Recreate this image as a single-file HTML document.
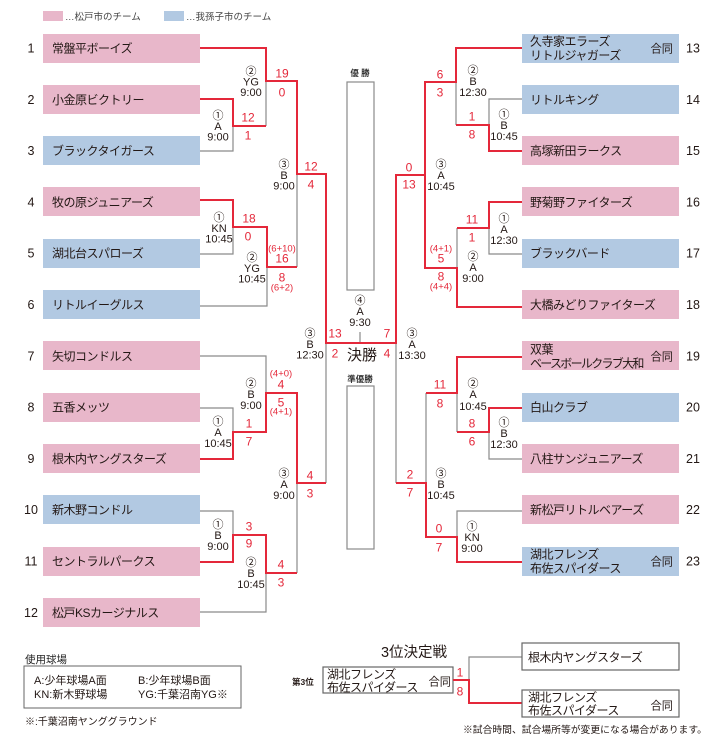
<!DOCTYPE html>
<html><head><meta charset="utf-8">
<style>
html,body{margin:0;padding:0;background:#fff;}
svg{display:block;}
text{font-family:"Liberation Sans","Noto Sans CJK JP",sans-serif;fill:#231815;}
.t{font-size:12px;letter-spacing:-0.5px;}
.gd{font-size:11.2px;text-anchor:end;letter-spacing:0;}
.m{font-size:11px;text-anchor:middle;}
.s{font-size:12px;text-anchor:middle;fill:#e4283a;}
.ss{font-size:9.5px;text-anchor:middle;fill:#e4283a;}
.n{font-size:12.5px;}
.g{stroke:#8a8a8a;stroke-width:1.2;fill:none;}
.r{stroke:#e4283a;stroke-width:2;fill:none;}
.pk{fill:#e8b7ca;}
.bl{fill:#b2c9e2;}
</style></head>
<body>
<svg width="720" height="747" viewBox="0 0 720 747" xmlns="http://www.w3.org/2000/svg">
<!-- legend -->
<rect x="43" y="11" width="20" height="10" class="pk"/>
<text x="65" y="20" style="font-size:9.5px;fill:#444">…松戸市のチーム</text>
<rect x="164" y="11" width="20" height="10" class="bl"/>
<text x="186" y="20" style="font-size:9.5px;fill:#444">…我孫子市のチーム</text>

<!-- left boxes -->
<rect x="43" y="34" width="157" height="29" class="pk"/>
<rect x="43" y="85" width="157" height="29" class="pk"/>
<rect x="43" y="136" width="157" height="29" class="bl"/>
<rect x="43" y="187" width="157" height="29" class="pk"/>
<rect x="43" y="239" width="157" height="29" class="bl"/>
<rect x="43" y="290" width="157" height="29" class="bl"/>
<rect x="43" y="341" width="157" height="29" class="pk"/>
<rect x="43" y="393" width="157" height="29" class="pk"/>
<rect x="43" y="444" width="157" height="29" class="pk"/>
<rect x="43" y="495" width="157" height="29" class="bl"/>
<rect x="43" y="547" width="157" height="29" class="pk"/>
<rect x="43" y="598" width="157" height="29" class="pk"/>

<text class="t" x="52" y="52.5">常盤平ボーイズ</text>
<text class="t" x="52" y="103.8">小金原ビクトリー</text>
<text class="t" x="52" y="155">ブラックタイガース</text>
<text class="t" x="52" y="206.4">牧の原ジュニアーズ</text>
<text class="t" x="52" y="257.7">湖北台スパローズ</text>
<text class="t" x="52" y="309">リトルイーグルス</text>
<text class="t" x="52" y="360.3">矢切コンドルス</text>
<text class="t" x="52" y="411.6">五香メッツ</text>
<text class="t" x="52" y="462.9">根木内ヤングスターズ</text>
<text class="t" x="52" y="514.2">新木野コンドル</text>
<text class="t" x="52" y="565.5">セントラルパークス</text>
<text class="t" x="52" y="616.8">松戸KSカージナルス</text>

<g class="n" style="text-anchor:middle">
<text x="31" y="52.5">1</text>
<text x="31" y="103.8">2</text>
<text x="31" y="155">3</text>
<text x="31" y="206.4">4</text>
<text x="31" y="257.7">5</text>
<text x="31" y="309">6</text>
<text x="31" y="360.3">7</text>
<text x="31" y="411.6">8</text>
<text x="31" y="462.9">9</text>
<text x="31" y="514.2">10</text>
<text x="31" y="565.5">11</text>
<text x="31" y="616.8">12</text>
</g>

<!-- right boxes -->
<rect x="522" y="34" width="157" height="29" class="bl"/>
<rect x="522" y="85" width="157" height="29" class="bl"/>
<rect x="522" y="136" width="157" height="29" class="pk"/>
<rect x="522" y="187" width="157" height="29" class="pk"/>
<rect x="522" y="239" width="157" height="29" class="bl"/>
<rect x="522" y="290" width="157" height="29" class="pk"/>
<rect x="522" y="341" width="157" height="29" class="pk"/>
<rect x="522" y="393" width="157" height="29" class="bl"/>
<rect x="522" y="444" width="157" height="29" class="pk"/>
<rect x="522" y="495" width="157" height="29" class="pk"/>
<rect x="522" y="547" width="157" height="29" class="bl"/>

<text class="t" x="530" y="45.5">久寺家エラーズ</text>
<text class="t" x="530" y="59.5">リトルジャガーズ</text>
<text class="gd" x="673" y="52.5">合同</text>
<text class="t" x="530" y="103.8">リトルキング</text>
<text class="t" x="530" y="155">高塚新田ラークス</text>
<text class="t" x="530" y="206.4">野菊野ファイターズ</text>
<text class="t" x="530" y="257.7">ブラックバード</text>
<text class="t" x="530" y="309">大橋みどりファイターズ</text>
<text class="t" x="530" y="353.3">双葉</text>
<text class="t" x="530" y="367.3" style="letter-spacing:-1.7px">ベースボールクラブ大和</text>
<text class="gd" x="673" y="360.3">合同</text>
<text class="t" x="530" y="411.6">白山クラブ</text>
<text class="t" x="530" y="462.9">八柱サンジュニアーズ</text>
<text class="t" x="530" y="514.2">新松戸リトルベアーズ</text>
<text class="t" x="530" y="558.5">湖北フレンズ</text>
<text class="t" x="530" y="572.5">布佐スパイダース</text>
<text class="gd" x="673" y="565.5">合同</text>

<g class="n">
<text x="686" y="52.5">13</text>
<text x="686" y="103.8">14</text>
<text x="686" y="155">15</text>
<text x="686" y="206.4">16</text>
<text x="686" y="257.7">17</text>
<text x="686" y="309">18</text>
<text x="686" y="360.3">19</text>
<text x="686" y="411.6">20</text>
<text x="686" y="462.9">21</text>
<text x="686" y="514.2">22</text>
<text x="686" y="565.5">23</text>
</g>

<!-- center boxes -->
<text x="360" y="76" style="font-size:8.5px;font-weight:bold;text-anchor:middle;fill:#333">優 勝</text>
<rect x="347" y="82" width="27" height="208" class="g"/>
<text x="360" y="382" style="font-size:8.5px;font-weight:bold;text-anchor:middle;fill:#333">準優勝</text>
<rect x="347" y="386" width="27" height="163" class="g"/>

<!-- gray lines -->
<path class="g" d="M200,151 H233 V126"/>
<path class="g" d="M266,81 V126"/>
<path class="g" d="M297,174 V267"/>
<path class="g" d="M200,254 H233 V227"/>
<path class="g" d="M200,306 H267 V267"/>
<path class="g" d="M326,343 V483"/>
<path class="g" d="M200,356 H266 V393"/>
<path class="g" d="M200,408 H233 V432"/>
<path class="g" d="M297,483 V573"/>
<path class="g" d="M200,511 H233 V535"/>
<path class="g" d="M200,612 H266 V573"/>
<path class="g" d="M360,332 V343"/>

<path class="g" d="M456,82 V125"/>
<path class="g" d="M522,99 H489 V125"/>
<path class="g" d="M457,228 V268"/>
<path class="g" d="M522,254 H489 V228"/>
<path class="g" d="M396,343 V483"/>
<path class="g" d="M426,393 V483"/>
<path class="g" d="M457,393 V432"/>
<path class="g" d="M522,459 H489 V432"/>
<path class="g" d="M522,511 H457 V537"/>

<!-- red lines -->
<path class="r" d="M200,48 H266 V81 H297 V174 H326 V343 H396 V175 H425 V82 H456 V48 H522"/>
<path class="r" d="M200,99 H233 V126 H266"/>
<path class="r" d="M200,200 H233 V227 H267 V267 H297"/>
<path class="r" d="M200,459 H233 V432 H266 V393 H297 V483 H326"/>
<path class="r" d="M200,562 H233 V535 H266 V573 H297"/>

<path class="r" d="M425,175 V268 H457 V307 H522"/>
<path class="r" d="M456,125 H489 V151 H522"/>
<path class="r" d="M457,228 H489 V202 H522"/>
<path class="r" d="M396,483 H426 V537 H457 V562 H522"/>
<path class="r" d="M426,393 H457 V357 H522"/>
<path class="r" d="M457,432 H489 V408 H522"/>

<!-- match labels -->
<g class="m">
<text x="251" y="75">②</text><text x="251" y="85.5">YG</text><text x="251" y="96">9:00</text>
<text x="218" y="119">①</text><text x="218" y="130">A</text><text x="218" y="140.5">9:00</text>
<text x="284" y="168">③</text><text x="284" y="179">B</text><text x="284" y="189.5">9:00</text>
<text x="219" y="221">①</text><text x="219" y="232">KN</text><text x="219" y="242.5">10:45</text>
<text x="252" y="261">②</text><text x="252" y="272">YG</text><text x="252" y="282.5">10:45</text>
<text x="310" y="337">③</text><text x="310" y="348">B</text><text x="310" y="358.5">12:30</text>
<text x="360" y="304">④</text><text x="360" y="315">A</text><text x="360" y="326">9:30</text>
<text x="412" y="337">③</text><text x="412" y="348">A</text><text x="412" y="359">13:30</text>
<text x="251" y="387">②</text><text x="251" y="398">B</text><text x="251" y="409">9:00</text>
<text x="218" y="425">①</text><text x="218" y="436">A</text><text x="218" y="447">10:45</text>
<text x="284" y="477">③</text><text x="284" y="488">A</text><text x="284" y="499">9:00</text>
<text x="218" y="528">①</text><text x="218" y="539">B</text><text x="218" y="550">9:00</text>
<text x="251" y="566">②</text><text x="251" y="577">B</text><text x="251" y="588">10:45</text>

<text x="473" y="74">②</text><text x="473" y="85">B</text><text x="473" y="96">12:30</text>
<text x="504" y="118">①</text><text x="504" y="129">B</text><text x="504" y="140">10:45</text>
<text x="441" y="168">③</text><text x="441" y="179">A</text><text x="441" y="190">10:45</text>
<text x="504" y="222">①</text><text x="504" y="233">A</text><text x="504" y="244">12:30</text>
<text x="473" y="260">②</text><text x="473" y="271">A</text><text x="473" y="282">9:00</text>
<text x="473" y="387">②</text><text x="473" y="398">A</text><text x="473" y="410">10:45</text>
<text x="504" y="426">①</text><text x="504" y="437">B</text><text x="504" y="448">12:30</text>
<text x="441" y="477">③</text><text x="441" y="488">B</text><text x="441" y="499">10:45</text>
<text x="472" y="530">①</text><text x="472" y="541">KN</text><text x="472" y="552">9:00</text>
</g>

<text x="362" y="360" style="font-size:15px;text-anchor:middle">決勝</text>

<!-- scores -->
<g>
<text class="s" x="282" y="77.5">19</text><text class="s" x="282" y="96.5">0</text>
<text class="s" x="248" y="121.5">12</text><text class="s" x="248" y="139.5">1</text>
<text class="s" x="311" y="170.5">12</text><text class="s" x="311" y="188.5">4</text>
<text class="s" x="249" y="222.5">18</text><text class="s" x="248" y="240.5">0</text>
<text class="ss" x="282" y="251.5">(6+10)</text>
<text class="s" x="282" y="262.5">16</text>
<text class="s" x="282" y="281.5">8</text>
<text class="ss" x="282" y="290.5">(6+2)</text>
<text class="s" x="335" y="337.5">13</text><text class="s" x="335" y="357.5">2</text>
<text class="s" x="387" y="337.5">7</text><text class="s" x="387" y="357.5">4</text>
<text class="ss" x="281" y="376.5">(4+0)</text>
<text class="s" x="281" y="388.5">4</text>
<text class="s" x="281" y="406.5">5</text>
<text class="ss" x="281" y="414.5">(4+1)</text>
<text class="s" x="249" y="427.5">1</text><text class="s" x="249" y="445.5">7</text>
<text class="s" x="310" y="479.5">4</text><text class="s" x="310" y="497.5">3</text>
<text class="s" x="249" y="530.5">3</text><text class="s" x="249" y="547.5">9</text>
<text class="s" x="281" y="568.5">4</text><text class="s" x="281" y="586.5">3</text>

<text class="s" x="440" y="78.5">6</text><text class="s" x="440" y="96.5">3</text>
<text class="s" x="472" y="120.5">1</text><text class="s" x="472" y="138.5">8</text>
<text class="s" x="409" y="171.5">0</text><text class="s" x="409" y="188.5">13</text>
<text class="s" x="472" y="223.5">11</text><text class="s" x="472" y="241.5">1</text>
<text class="ss" x="441" y="251.5">(4+1)</text>
<text class="s" x="441" y="262.5">5</text>
<text class="s" x="441" y="280.5">8</text>
<text class="ss" x="441" y="289.5">(4+4)</text>
<text class="s" x="440" y="388.5">11</text><text class="s" x="440" y="407.5">8</text>
<text class="s" x="472" y="427.5">8</text><text class="s" x="472" y="445.5">6</text>
<text class="s" x="410" y="478.5">2</text><text class="s" x="410" y="496.5">7</text>
<text class="s" x="439" y="532.5">0</text><text class="s" x="439" y="551.5">7</text>
</g>

<!-- venue legend -->
<text x="25" y="663" style="font-size:10.5px;fill:#222">使用球場</text>
<rect x="24" y="666" width="217" height="42" style="fill:none;stroke:#666;stroke-width:1"/>
<g style="font-size:11px">
<text x="34" y="684">A:少年球場A面</text>
<text x="138" y="684">B:少年球場B面</text>
<text x="34" y="698">KN:新木野球場</text>
<text x="138" y="698">YG:千葉沼南YG※</text>
</g>
<text x="25" y="725" style="font-size:10px">※:千葉沼南ヤンググラウンド</text>

<!-- 3rd place -->
<text x="414" y="657" style="font-size:14.5px;text-anchor:middle">3位決定戦</text>
<text x="292" y="685" style="font-size:8.5px;font-weight:bold">第3位</text>
<rect x="323" y="667" width="130" height="26" style="fill:#fff;stroke:#666;stroke-width:1.2"/>
<text class="t" x="327" y="678.5">湖北フレンズ</text>
<text class="t" x="327" y="691.5">布佐スパイダース</text>
<text class="gd" x="451" y="685.5">合同</text>

<path class="g" d="M469,680 V657 H522"/>
<path class="r" d="M453,680 H469 V703 H522"/>
<text class="s" x="460" y="676.5">1</text>
<text class="s" x="460" y="695.5">8</text>

<rect x="522" y="643" width="157" height="27" style="fill:#fff;stroke:#666;stroke-width:1.2"/>
<text class="t" x="528" y="661.5">根木内ヤングスターズ</text>
<rect x="522" y="690" width="157" height="27" style="fill:#fff;stroke:#666;stroke-width:1.2"/>
<text class="t" x="528" y="701.5">湖北フレンズ</text>
<text class="t" x="528" y="714.5">布佐スパイダース</text>
<text class="gd" x="673" y="709.5">合同</text>

<text x="463" y="733" style="font-size:9.8px">※試合時間、試合場所等が変更になる場合があります。</text>
</svg>
</body></html>
